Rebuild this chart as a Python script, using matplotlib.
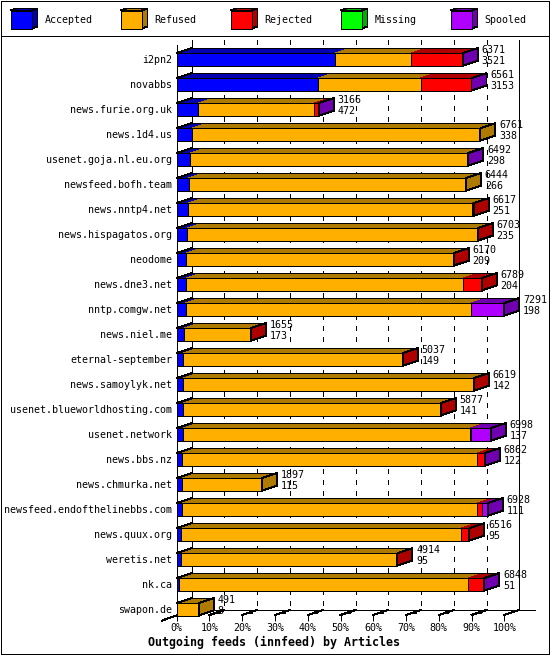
import matplotlib
matplotlib.use('Agg')
import matplotlib.pyplot as plt
from matplotlib.patches import Polygon, Rectangle

#### chart values
feeds = ['i2pn2', 'novabbs', 'news.furie.org.uk', 'news.1d4.us', 'usenet.goja.nl.eu.org',
         'newsfeed.bofh.team', 'news.nntp4.net', 'news.hispagatos.org', 'neodome', 'news.dne3.net',
         'nntp.comgw.net', 'news.niel.me', 'eternal-september', 'news.samoylyk.net',
         'usenet.blueworldhosting.com', 'usenet.network', 'news.bbs.nz', 'news.chmurka.net',
         'newsfeed.endofthelinebbs.com', 'news.quux.org', 'weretis.net', 'nk.ca', 'swapon.de']
accepted = [3521, 3153, 472, 338, 298, 266, 251, 235, 209, 204, 198, 173, 149, 142, 141, 137, 122, 115, 111, 95, 95, 51, 8]
refused = [1687, 2277, 2591, 6423, 6159, 6178, 6316, 6453, 5951, 6176, 6347, 1472, 4878, 6467, 5726, 6385, 6556, 1782, 6567, 6227, 4809, 6440, 483]
rejected = [1135, 1121, 75, 0, 15, 0, 50, 15, 10, 409, 5, 10, 10, 10, 10, 29, 163, 0, 111, 194, 10, 350, 0]
missing = [0] * 23
spooled = [28, 10, 28, 0, 20, 0, 0, 0, 0, 0, 741, 0, 0, 0, 0, 447, 21, 0, 139, 0, 0, 7, 0]
percent_ticks = [0, 10, 20, 30, 40, 50, 60, 70, 80, 90, 100]

series_names = ['Accepted', 'Refused', 'Rejected', 'Missing', 'Spooled']
series_values = [accepted, refused, rejected, missing, spooled]
front_colors = ['#0000FF', '#FFAF00', '#FF0000', '#00FF00', '#AF00FF']
side_colors = ['#0000AF', '#AF7A00', '#AF0000', '#00AF00', '#7000AF']

#### picture layout, in pixels
W, H = 550, 655
X0, X100 = 176.7, 504.3
Y_FRONT = 615.0
Y_ROW0 = 59.3
ROW_PX = 25.0
DEPTH_X, DEPTH_Y = 15.0, 5.0
LINE = 0.72

plt.rcParams['font.family'] = 'DejaVu Sans Mono'
plt.rcParams['font.size'] = 7.2

totals = [sum(vals) for vals in zip(*series_values)]
xmax = max(totals)
x_per_px = xmax / (X100 - X0)


def px_x(px):
  return (px - X0) * x_per_px


def px_y(py):
  return (py - Y_ROW0) / ROW_PX


fig = plt.figure(figsize=(W / 100, H / 100), dpi=100, facecolor='white')

## frame and legend live in a pixel-sized axes behind the chart
frame = fig.add_axes([0, 0, 1, 1])
frame.set_xlim(0, W)
frame.set_ylim(H, 0)
frame.axis('off')
frame.add_patch(Rectangle((0.5, 0.5), 548, 653.5, fill=False, ec='black', lw=LINE, aa=False))
frame.plot([0.5, 548.5], [35.5, 35.5], color='black', lw=LINE, aa=False)

legend_x = [10.5, 120.5, 230.5, 340.5, 450.5]
for lx, name, fc, sc in zip(legend_x, series_names, front_colors, side_colors):
  frame.add_patch(Polygon([(lx + 21, 10.5), (lx + 27, 8.5), (lx + 27, 26.5), (lx + 21, 28.5)],
                          fc=sc, ec='black', lw=LINE, aa=False))
  frame.add_patch(Polygon([(lx, 10.5), (lx + 6, 8.5), (lx + 27, 8.5), (lx + 21, 10.5)],
                          fc=sc, ec='black', lw=LINE, aa=False))
  frame.add_patch(Rectangle((lx, 10.5), 21, 18, fc=fc, ec='black', lw=LINE, aa=False))
  frame.text(lx + 34, 20, name, va='center', ha='left')

## main axes: front plane of the 3D box
ax = fig.add_axes([X0 / W, 1 - Y_FRONT / H, (X100 - X0) / W, (Y_FRONT - 45) / H])
ax.patch.set_alpha(0)
ax.set_xlim(0, xmax)
ax.set_ylim(px_y(Y_FRONT), px_y(45))
for side in ['top', 'right', 'bottom']:
  ax.spines[side].set_visible(False)
ax.spines['left'].set_linewidth(LINE)
ax.spines['left'].set_antialiased(False)

rows = list(range(len(feeds)))
ax.set_yticks(rows, feeds)
ax.tick_params(axis='y', length=0, pad=3.4)
tick_x = [p / 100 * xmax for p in percent_ticks]
ax.set_xticks(tick_x, ['%d%%' % p for p in percent_ticks])
ax.tick_params(axis='x', length=4, width=LINE, pad=1.5)

dx = DEPTH_X * x_per_px
dy = DEPTH_Y / ROW_PX
back_top, back_floor = px_y(40), px_y(Y_FRONT - DEPTH_Y)

## back walls, floor and gridlines
line_opts = dict(color='black', lw=LINE, clip_on=False, aa=False, zorder=1)
ax.plot([dx, dx], [back_top, back_floor], **line_opts)
ax.plot([xmax + dx, xmax + dx], [back_top, back_floor], **line_opts)
ax.plot([dx, px_x(535)], [back_floor, back_floor], **line_opts)
ax.plot([px_x(161.7), dx], [px_y(620.7), back_floor], **line_opts)
for tx in tick_x[1:]:
  ax.plot([tx, tx + dx], [px_y(Y_FRONT), back_floor], **line_opts)
for tx in tick_x[1:-1]:
  ax.plot([tx + dx, tx + dx], [back_top, back_floor], ls=(0, (5, 6)), **line_opts)
  ax.plot([tx + 0.58 * dx], [px_y(612)], marker='s', ms=2.2, mew=0, **line_opts)

## stacked 3D bars
bar_h = 0.5
outline = dict(color='black', lw=LINE, clip_on=False, aa=False, zorder=3.05)
left = [0] * len(feeds)
for vals, fc, sc in zip(series_values, front_colors, side_colors):
  for row, val in enumerate(vals):
    if val == 0:
      continue
    l, r = left[row], left[row] + val
    top = row - bar_h / 2
    ax.barh(row, val, left=l, height=bar_h, color=fc, edgecolor='black', linewidth=LINE,
            clip_on=False, antialiased=False, zorder=3)
    ## top faces join without a black line between segments
    ax.add_patch(Polygon([(l, top), (r, top), (r + dx, top - dy), (l + dx, top - dy)],
                         fc=sc, ec='none', clip_on=False, aa=False, zorder=2.9))
    ax.plot([l + dx, r + dx], [top - dy, top - dy], **outline)
    if l == 0:
      ax.plot([0, dx], [top, top - dy], **outline)
    ## only the last segment of a stack shows its end face
    if r == totals[row]:
      ax.add_patch(Polygon([(r, top), (r + dx, top - dy), (r + dx, top - dy + bar_h), (r, top + bar_h)],
                           fc=sc, ec='black', lw=LINE, clip_on=False, aa=False, zorder=3.1))
    left[row] = r

## total / accepted counts next to each bar
for row, (total, acc) in enumerate(zip(totals, accepted)):
  tx = total + dx + 3.6 * x_per_px
  ax.text(tx, row - 9.3 / ROW_PX, str(total), va='center', ha='left', clip_on=False, zorder=5)
  ax.text(tx, row + 1.7 / ROW_PX, str(acc), va='center', ha='left', clip_on=False, zorder=5)

frame.text(274, 642, 'Outgoing feeds (innfeed) by Articles', ha='center', va='center',
           fontsize=8.4, fontweight='bold')

fig.savefig('out.png', dpi=100)
